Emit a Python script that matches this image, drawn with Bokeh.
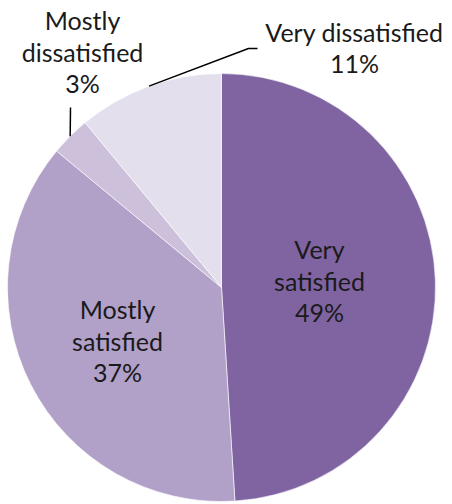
import numpy as np
from bokeh.plotting import figure
from bokeh.models import Range1d, ColumnDataSource
from bokeh.core.properties import value
from bokeh.embed import file_html
from bokeh.resources import INLINE

# ---- data ----
categories = ["Very satisfied", "Mostly satisfied", "Mostly dissatisfied", "Very dissatisfied"]
percents = [49, 37, 3, 11]
colors = ["#8064A2", "#B1A0C7", "#CCC0DA", "#E4DFEC"]
label_texts = ["Very\nsatisfied\n49%", "Mostly\nsatisfied\n37%",
               "Mostly\ndissatisfied\n3%", "Very dissatisfied\n11%"]

# ---- layout (screen-like coordinates; y measured downward from page top) ----
W, H = 452, 504
cx, cy_s, R = 221, 287, 214
label_pos_s = [(319, 280), (117, 340), (82, 51), (354, 47)]
leader_elbow_s = {2: None, 3: (248, 48)}
leader_end_s = {2: (70, 107), 3: (257, 48)}

def fy(ys):
    return H - ys

cy = fy(cy_s)
vals = np.array(percents, dtype=float)
frac = vals / vals.sum()
cum = np.concatenate([[0], np.cumsum(frac)])
start = np.pi / 2 - 2 * np.pi * cum[:-1]
end = np.pi / 2 - 2 * np.pi * cum[1:]
mid = (start + end) / 2

p = figure(width=W, height=H, output_backend="svg", toolbar_location=None,
           x_range=Range1d(0, W), y_range=Range1d(0, H),
           min_border=0)
p.axis.visible = False
p.grid.visible = False
p.outline_line_color = None
p.background_fill_color = "white"
p.border_fill_color = "white"

src = ColumnDataSource(dict(start=start, end=end, color=colors, cat=categories))
p.wedge(x=cx, y=cy, radius=R, start_angle="start", end_angle="end",
        direction="clock",
        fill_color="color", line_color="white", line_width=0.6, source=src)

# leader lines from slice edge midpoints
for i in (2, 3):
    ax = cx + R * np.cos(mid[i])
    ay = cy + R * np.sin(mid[i])
    xs = [ax]
    ys = [ay]
    if leader_elbow_s[i] is not None:
        xs.append(leader_elbow_s[i][0]); ys.append(fy(leader_elbow_s[i][1]))
    xs.append(leader_end_s[i][0]); ys.append(fy(leader_end_s[i][1]))
    p.line(xs, ys, line_color="black", line_width=1.5)

lsrc = ColumnDataSource(dict(x=[q[0] for q in label_pos_s],
                             y=[fy(q[1]) for q in label_pos_s],
                             t=label_texts))
p.text(x="x", y="y", text="t", source=lsrc, text_align="center",
       text_baseline="middle", text_font=value("Lato"),
       text_font_size="25px", text_color="#1a1a1a", text_line_height=1.05)

open("out.html", "w").write(file_html(p, INLINE))
